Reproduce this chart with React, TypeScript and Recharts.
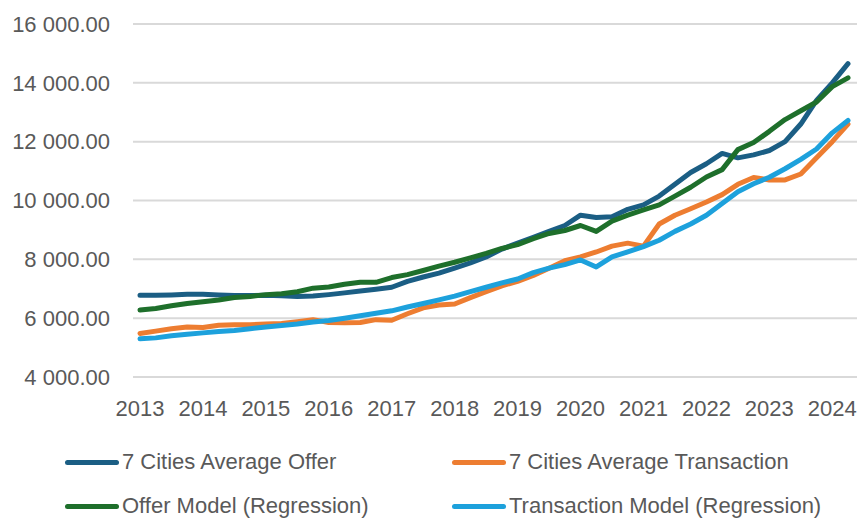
import { LineChart, Line, XAxis, YAxis, CartesianGrid, Legend } from 'recharts'

// quarterly, 2013 Q1 .. 2024 Q2
const quarters = [
  '2013 Q1', '2013 Q2', '2013 Q3', '2013 Q4',
  '2014 Q1', '2014 Q2', '2014 Q3', '2014 Q4',
  '2015 Q1', '2015 Q2', '2015 Q3', '2015 Q4',
  '2016 Q1', '2016 Q2', '2016 Q3', '2016 Q4',
  '2017 Q1', '2017 Q2', '2017 Q3', '2017 Q4',
  '2018 Q1', '2018 Q2', '2018 Q3', '2018 Q4',
  '2019 Q1', '2019 Q2', '2019 Q3', '2019 Q4',
  '2020 Q1', '2020 Q2', '2020 Q3', '2020 Q4',
  '2021 Q1', '2021 Q2', '2021 Q3', '2021 Q4',
  '2022 Q1', '2022 Q2', '2022 Q3', '2022 Q4',
  '2023 Q1', '2023 Q2', '2023 Q3', '2023 Q4',
  '2024 Q1', '2024 Q2',
]

const avgOffer = [
  6780, 6780, 6790, 6810, 6810, 6790, 6770, 6770, 6780, 6760, 6740, 6750,
  6800, 6860, 6920, 6980, 7050, 7250, 7400, 7530, 7700, 7880, 8080, 8350,
  8550, 8750, 8950, 9150, 9500, 9420, 9450, 9700, 9850, 10150, 10550, 10950,
  11250, 11600, 11450, 11550, 11700, 12000, 12600, 13400, 14000, 14650,
]

const avgTransaction = [
  5480, 5560, 5640, 5700, 5680, 5760, 5780, 5780, 5800, 5820, 5880, 5950,
  5850, 5840, 5850, 5950, 5930, 6150, 6350, 6450, 6480, 6700, 6900, 7100,
  7250, 7450, 7700, 7950, 8080, 8250, 8450, 8550, 8450, 9200, 9500, 9720,
  9950, 10200, 10550, 10780, 10700, 10700, 10900, 11450, 12000, 12600,
]

const offerModel = [
  6280, 6330, 6420, 6500, 6560, 6620, 6700, 6740, 6800, 6830, 6900, 7020,
  7060, 7150, 7220, 7220, 7380, 7480, 7620, 7770, 7900, 8050, 8200, 8370,
  8500, 8700, 8880, 8980, 9150, 8950, 9300, 9500, 9680, 9850, 10150, 10450,
  10800, 11050, 11730, 11970, 12350, 12750, 13050, 13350, 13870, 14170,
]

const transactionModel = [
  5300, 5330, 5400, 5450, 5500, 5550, 5580, 5640, 5700, 5750, 5800, 5870,
  5920, 6000, 6080, 6170, 6250, 6380, 6500, 6620, 6750, 6900, 7050, 7200,
  7330, 7550, 7700, 7820, 7980, 7740, 8080, 8250, 8430, 8650, 8950, 9200,
  9500, 9900, 10300, 10570, 10790, 11080, 11400, 11750, 12300, 12720,
]

const yTicks = [4000, 6000, 8000, 10000, 12000, 14000, 16000]
const yearTicks = quarters.filter((q) => q.endsWith('Q1'))

const series = [
  { key: 'avgOffer', name: '7 Cities Average Offer', color: '#1B5E84' },
  { key: 'avgTransaction', name: '7 Cities Average Transaction', color: '#ED7D31' },
  { key: 'offerModel', name: 'Offer Model (Regression)', color: '#1E6F2B' },
  { key: 'transactionModel', name: 'Transaction Model (Regression)', color: '#1DA1DC' },
]

const data = quarters.map((q, i) => ({
  q,
  avgOffer: avgOffer[i],
  avgTransaction: avgTransaction[i],
  offerModel: offerModel[i],
  transactionModel: transactionModel[i],
}))

const FONT = '"Liberation Sans", Arial, sans-serif'
const TEXT = '#595959'
const FS = 22

const fmtY = (v: number) => {
  const th = Math.floor(v / 1000)
  const rest = String(v % 1000).padStart(3, '0')
  return `${th} ${rest}.00`
}

const LegendBox = () => (
  <div style={{ position: 'relative', width: 861, height: 80, fontFamily: FONT, fontSize: FS, color: TEXT }}>
    {series.map((s, i) => (
      <div
        key={s.key}
        style={{
          position: 'absolute',
          left: i % 2 === 0 ? 65 : 452,
          top: i < 2 ? 0 : 44,
          display: 'flex',
          alignItems: 'center',
          whiteSpace: 'nowrap',
          lineHeight: '26px',
        }}
      >
        <span style={{ display: 'inline-block', width: 54, height: 5, borderRadius: 3, background: s.color, marginRight: 3 }} />
        <span>{s.name}</span>
      </div>
    ))}
  </div>
)

export default function App() {
  return (
    <div style={{ position: 'fixed', left: 0, top: 0, width: 861, height: 518, background: '#fff', overflow: 'hidden' }}>
      <LineChart width={861} height={518} data={data} margin={{ top: 24, right: 4, left: 0, bottom: 111 }}>
        <CartesianGrid vertical={false} stroke="#D9D9D9" strokeWidth={2} />
        <XAxis
          dataKey="q"
          ticks={yearTicks}
          tickFormatter={(q: string) => q.slice(0, 4)}
          interval={0}
          padding={{ left: 7, right: 9 }}
          axisLine={false}
          tickLine={false}
          tickSize={0}
          tickMargin={23}
          height={30}
          tick={{ fill: TEXT, fontSize: FS, fontFamily: FONT }}
        />
        <YAxis
          domain={[4000, 16000]}
          ticks={yTicks}
          tickFormatter={fmtY}
          axisLine={false}
          tickLine={false}
          tickSize={0}
          tickMargin={23}
          width={133}
          tick={{ fill: TEXT, fontSize: FS, fontFamily: FONT }}
        />
        <Legend
          layout="horizontal"
          verticalAlign="middle"
          align="center"
          wrapperStyle={{ left: 0, top: 449, width: 861 }}
          content={() => <LegendBox />}
        />
        {series.map((s) => (
          <Line
            key={s.key}
            type="linear"
            dataKey={s.key}
            name={s.name}
            stroke={s.color}
            strokeWidth={5}
            strokeLinecap="round"
            strokeLinejoin="round"
            dot={false}
            activeDot={false}
            isAnimationActive={false}
          />
        ))}
      </LineChart>
    </div>
  )
}
